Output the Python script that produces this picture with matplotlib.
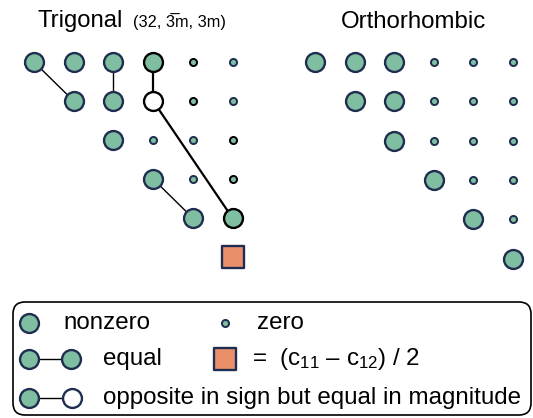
import matplotlib.pyplot as plt
from matplotlib.patches import FancyBboxPatch

plt.rcParams['font.family'] = ['Liberation Sans', 'DejaVu Sans']
plt.rcParams['mathtext.fontset'] = 'custom'
plt.rcParams['mathtext.rm'] = 'Liberation Sans'
plt.rcParams['mathtext.it'] = 'Liberation Sans'

GREEN = '#7fbea0'
NAVY = '#1f2e50'
ORANGE = '#e9906a'

# elastic stiffness matrix c_ij (upper triangle), one entry per row
# n = nonzero, z = zero, o = opposite sign of linked entry, s = (c11 - c12)/2
trigonal = [
    ['n', 'n', 'n', 'n', 'z', 'z'],
    ['n', 'n', 'o', 'z', 'z'],
    ['n', 'z', 'z', 'z'],
    ['n', 'z', 'z'],
    ['n', 'n'],
    ['s'],
]
# entries drawn with a black outline (depend on the point group)
trigonal_black = [(0, 3), (0, 4), (1, 3), (1, 4), (2, 5), (3, 5), (4, 5)]
# linked pairs (i, j) -> (k, l), with line weight
trigonal_links = [
    ((0, 0), (1, 1), 1.0),
    ((0, 2), (1, 2), 1.0),
    ((3, 3), (4, 4), 1.0),
    ((0, 3), (1, 3), 1.6),
    ((1, 3), (4, 5), 1.6),
]

orthorhombic = [
    ['n', 'n', 'n', 'z', 'z', 'z'],
    ['n', 'n', 'z', 'z', 'z'],
    ['n', 'z', 'z', 'z'],
    ['n', 'z', 'z'],
    ['n', 'z'],
    ['n'],
]

fig = plt.figure(figsize=(5.33, 4.18), dpi=100)
ax = fig.add_axes([0, 0, 1, 1])
ax.set_xlim(0, 533)
ax.set_ylim(418, 0)
ax.axis('off')

BIG = 185
SMALL = 26


def draw_marker(x, y, kind, edge):
    if kind == 'n':
        ax.scatter(x, y, s=BIG, c=GREEN, edgecolors=edge, linewidths=1.7, zorder=3)
    elif kind == 'o':
        ax.scatter(x, y, s=BIG, c='white', edgecolors=edge, linewidths=1.7, zorder=3)
    elif kind == 'z':
        ax.scatter(x, y, s=SMALL, c=GREEN, edgecolors=edge, linewidths=1.4, zorder=3)
    elif kind == 's':
        ax.scatter(x, y, s=235, marker='s', c=ORANGE, edgecolors=NAVY,
                   linewidths=1.7, zorder=3)


def draw_matrix(rows, x0, y0, dx, dy, black=(), links=()):
    pos = lambda i, j: (x0 + j * dx, y0 + i * dy)
    for (a, b, lw) in links:
        (xa, ya), (xb, yb) = pos(*a), pos(*b)
        ax.plot([xa, xb], [ya, yb], color='black', lw=lw, zorder=2)
    for i, row in enumerate(rows):
        for k, kind in enumerate(row):
            j = i + k
            edge = 'black' if (i, j) in black else NAVY
            draw_marker(*pos(i, j), kind, edge)


draw_matrix(trigonal, 34, 62, 39.7, 39, trigonal_black, trigonal_links)
draw_matrix(orthorhombic, 315, 62, 39.6, 39.3)

ax.text(38, 21, 'Trigonal', fontsize=17.2, ha='left', va='center')
ax.text(133, 22, '(32, 3\u0305m, 3m)', fontsize=11.8, ha='left', va='center')
ax.text(414, 22, 'Orthorhombic', fontsize=17.3, ha='center', va='center')

# legend box
ax.add_patch(FancyBboxPatch((13, 302), 518, 113,
                            boxstyle='round,pad=0,rounding_size=12',
                            fc='none', ec='black', lw=1.2, zorder=1))

FS = 17.4
ly = [323, 359, 398]
draw_marker(29, ly[0], 'n', NAVY)
ax.text(63, ly[0], 'nonzero', fontsize=FS, va='center')
draw_marker(225, ly[0], 'z', NAVY)
ax.text(257, ly[0], 'zero', fontsize=FS, va='center')

ax.plot([29, 71], [ly[1], ly[1]], color='black', lw=1.0, zorder=2)
draw_marker(29, ly[1], 'n', NAVY)
draw_marker(71, ly[1], 'n', NAVY)
ax.text(103, ly[1], 'equal', fontsize=FS, va='center')
draw_marker(225, ly[1], 's', NAVY)
ax.text(252, ly[1], '=  (c$_{11}$ \u2013 c$_{12}$) / 2', fontsize=FS, va='center')

ax.plot([29, 72], [ly[2], ly[2]], color='black', lw=1.0, zorder=2)
draw_marker(29, ly[2], 'n', NAVY)
draw_marker(72, ly[2], 'o', NAVY)
ax.text(103, ly[2], 'opposite in sign but equal in magnitude', fontsize=FS, va='center')

fig.savefig('out.png', dpi=100)
